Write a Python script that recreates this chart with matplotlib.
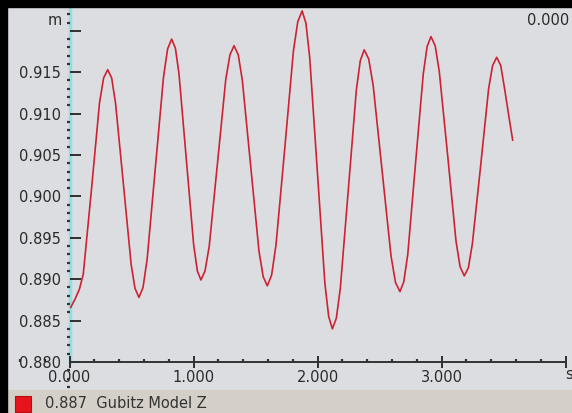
import matplotlib
matplotlib.use("Agg")
import matplotlib.pyplot as plt
from matplotlib.patches import Rectangle
from matplotlib.ticker import MultipleLocator, FixedLocator, FixedFormatter

# ---- data ----
time_s = [0.010, 0.045, 0.080, 0.111, 0.177, 0.242, 0.275, 0.308,
          0.340, 0.371, 0.434, 0.497, 0.528, 0.560,
          0.593, 0.626, 0.692, 0.758, 0.791, 0.824,
          0.854, 0.883, 0.942, 1.001, 1.031, 1.060,
          1.093, 1.127, 1.194, 1.260, 1.294, 1.327,
          1.361, 1.394, 1.461, 1.528, 1.562, 1.595,
          1.630, 1.665, 1.736, 1.806, 1.841, 1.876,
          1.907, 1.937, 1.998, 2.059, 2.090, 2.120,
          2.152, 2.184, 2.249, 2.313, 2.345, 2.377,
          2.413, 2.449, 2.521, 2.593, 2.629, 2.665,
          2.696, 2.728, 2.790, 2.853, 2.884, 2.915,
          2.949, 2.982, 3.050, 3.117, 3.150, 3.184,
          3.217, 3.249, 3.315, 3.380, 3.412, 3.445,
          3.478, 3.511, 3.545, 3.574]
position_m = [0.8866, 0.8876, 0.8888, 0.8906, 0.9008, 0.9113, 0.9143, 0.9153,
              0.9143, 0.9113, 0.9016, 0.8918, 0.8889, 0.8878,
              0.8890, 0.8924, 0.9034, 0.9144, 0.9178, 0.9190,
              0.9179, 0.9148, 0.9045, 0.8942, 0.8910, 0.8899,
              0.8910, 0.8940, 0.9041, 0.9141, 0.9171, 0.9182,
              0.9171, 0.9140, 0.9037, 0.8934, 0.8903, 0.8892,
              0.8905, 0.8941, 0.9058, 0.9176, 0.9211, 0.9224,
              0.9209, 0.9168, 0.9032, 0.8896, 0.8855, 0.8840,
              0.8853, 0.8889, 0.9009, 0.9128, 0.9164, 0.9177,
              0.9166, 0.9134, 0.9031, 0.8928, 0.8896, 0.8885,
              0.8897, 0.8930, 0.9039, 0.9148, 0.9181, 0.9193,
              0.9182, 0.9151, 0.9049, 0.8946, 0.8915, 0.8904,
              0.8914, 0.8943, 0.9036, 0.9130, 0.9158, 0.9168,
              0.9158, 0.9128, 0.9095, 0.9068]
x_major = [0.0, 1.0, 2.0, 3.0, 4.0]
x_labels = ["0.000", "1.000", "2.000", "3.000", ""]
y_major = [0.880, 0.885, 0.890, 0.895, 0.900, 0.905, 0.910, 0.915, 0.920]
y_labels = ["0.880", "0.885", "0.890", "0.895", "0.900", "0.905", "0.910", "0.915", ""]
legend_value = "0.887"
legend_name = "Gubitz Model Z"
cursor_value = "0.000"

W, H = 572, 413
fig = plt.figure(figsize=(W / 100, H / 100), dpi=100)
fig.patch.set_facecolor("#d4d0c8")

# window edges (black) at top and left
fig.add_artist(Rectangle((0, 0), 7 / W, 1, transform=fig.transFigure, color="black", zorder=10))
fig.add_artist(Rectangle((0, 1 - 7 / H), 1, 7 / H, transform=fig.transFigure, color="black", zorder=10))

ax = fig.add_axes([7 / W, (H - 390) / H, (W - 7) / W, (390 - 7) / H])
ax.set_facecolor("#dcdde1")

px_per_s = 124.0
x0_px = 69.5
ax.set_xlim(-(x0_px - 7) / px_per_s, (W - x0_px) / px_per_s)
py_per_unit = 41.4 / 0.005
ax.set_ylim(0.880 - (390 - 362) / py_per_unit, 0.880 + (362 - 7) / py_per_unit)

ax.plot(time_s, position_m, color="#cc2233", lw=1.2, solid_joinstyle="round", zorder=3)

for s in ("top", "right"):
    ax.spines[s].set_visible(False)
ax.spines["left"].set_position(("data", 0.0))
ax.spines["left"].set_bounds(0.880, ax.get_ylim()[1])
ax.spines["left"].set_color("#8fe0de")
ax.spines["left"].set_linewidth(2.5)
ax.spines["left"].set_zorder(1)
ax.spines["bottom"].set_position(("data", 0.880))
ax.spines["bottom"].set_bounds(0.0, 4.0)
ax.spines["bottom"].set_color("#333333")
ax.spines["bottom"].set_linewidth(1.4)

ax.xaxis.set_major_locator(FixedLocator(x_major))
ax.xaxis.set_major_formatter(FixedFormatter(x_labels))
ax.xaxis.set_minor_locator(MultipleLocator(0.2))
ax.yaxis.set_major_locator(FixedLocator(y_major))
ax.yaxis.set_major_formatter(FixedFormatter(y_labels))
ax.yaxis.set_minor_locator(MultipleLocator(0.001))

lab_color = "#2a2a2a"
ax.tick_params(axis="x", which="major", direction="inout", length=9, width=1.3,
               color="#222222", labelsize=10.5, labelcolor=lab_color, pad=1)
ax.tick_params(axis="x", which="minor", direction="in", length=2.5, width=1.6, color="#333333")
ax.tick_params(axis="y", which="major", direction="in", length=8, width=1.3,
               color="#222222", labelsize=10.5, labelcolor=lab_color, pad=6)
ax.tick_params(axis="y", which="minor", direction="out", length=2.2, width=1.6, color="#333333")

# unit labels and cursor readout
ax.text(-0.06, 0.9213, "m", ha="right", va="center", fontsize=10.5, color=lab_color)
ax.text(0.0, 0.9225, "^", ha="center", va="center", fontsize=7, color="#333333")
ax.text(4.0, 0.8785, "s", ha="left", va="center", fontsize=10.5, color=lab_color)
ax.text(0.995, 0.965, cursor_value, transform=ax.transAxes, ha="right", va="center",
        fontsize=10.5, color=lab_color)

# bottom legend strip
fig.add_artist(Rectangle((15 / W, (H - 412) / H), 16 / W, 16 / H, transform=fig.transFigure,
                         facecolor="#e8141c", edgecolor="#b01010", lw=0.8, zorder=10))
fig.text(45 / W, (H - 404) / H, legend_value + "  " + legend_name, ha="left", va="center",
         fontsize=10.5, color="#333333")

fig.savefig("out.png", dpi=100, facecolor=fig.get_facecolor())
